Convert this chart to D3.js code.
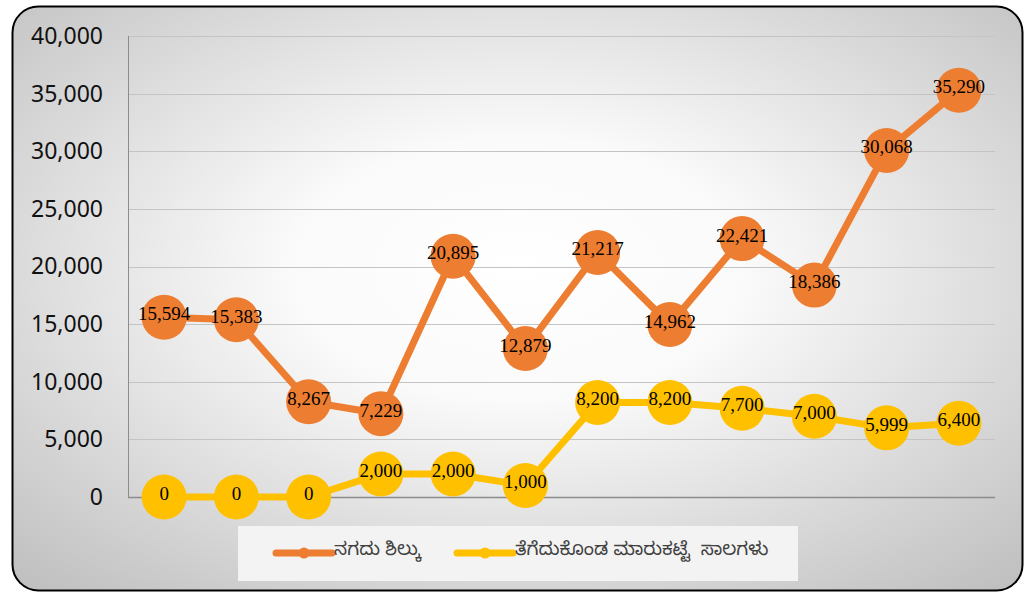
<!DOCTYPE html>
<html>
<head>
<meta charset="utf-8">
<script src="https://cdn.jsdelivr.net/npm/d3@7"></script>
<style>
  body { margin: 0; background: #fff; }
  svg { display: block; }
</style>
</head>
<body>
<svg id="chart"></svg>
<script>
'use strict';
// periods along the x axis (no labels are printed on the chart)
let periods = ["1", "2", "3", "4", "5", "6", "7", "8", "9", "10", "11", "12"];
let cashBalance = [15594, 15383, 8267, 7229, 20895, 12879, 21217, 14962, 22421, 18386, 30068, 35290];
let marketLoans = [0, 0, 0, 2000, 2000, 1000, 8200, 8200, 7700, 7000, 5999, 6400];
let yTicks = [0, 5000, 10000, 15000, 20000, 25000, 30000, 35000, 40000];
let seriesNames = ["ನಗದು ಶಿಲ್ಕು", "ತೆಗೆದುಕೊಂಡ ಮಾರುಕಟ್ಟೆ  ಸಾಲಗಳು"];
let seriesColors = ["#ED7D31", "#FFC000"];

function getChartConfig() {
    let width = 1033, height = 592;
    let plot = { left: 128, right: 995, top: 36, bottom: 497 };
    let svg = d3.select("#chart")
        .attr("width", width)
        .attr("height", height);
    return { width, height, plot, svg };
}

function getScales(config) {
    let { plot } = config;
    let xScale = d3.scalePoint()
        .domain(periods)
        .range([plot.left, plot.right])
        .padding(0.5);
    let yScale = d3.scaleLinear()
        .domain([0, 40000])
        .range([plot.bottom, plot.top]);
    return { xScale, yScale };
}

function drawBackground(config) {
    let { svg } = config;
    let grad = svg.append("defs")
        .append("radialGradient")
        .attr("id", "bg")
        .attr("cx", "50%").attr("cy", "45%").attr("r", "75%");
    grad.append("stop").attr("offset", "0%").attr("stop-color", "#ffffff");
    grad.append("stop").attr("offset", "30%").attr("stop-color", "#fafafa");
    grad.append("stop").attr("offset", "100%").attr("stop-color", "#bdbdbd");

    svg.append("rect")
        .attr("x", 12.5).attr("y", 6.5)
        .attr("width", 1010).attr("height", 584)
        .attr("rx", 26).attr("ry", 26)
        .attr("fill", "url(#bg)")
        .attr("stroke", "#000")
        .attr("stroke-width", 2);
}

function drawAxes(config, scales) {
    let { svg, plot } = config;
    let { yScale } = scales;

    svg.append("g").selectAll("line")
        .data(yTicks.filter(d => d > 0))
        .enter().append("line")
        .attr("x1", plot.left).attr("x2", plot.right)
        .attr("y1", d => Math.round(yScale(d)) + 0.5)
        .attr("y2", d => Math.round(yScale(d)) + 0.5)
        .style("stroke", "#c4c4c4")
        .style("stroke-width", 1);

    let yAxis = d3.axisLeft(yScale)
        .tickValues(yTicks)
        .tickFormat(d3.format(","))
        .tickSize(0)
        .tickPadding(25);
    let g = svg.append("g")
        .attr("transform", "translate(" + plot.left + ",0)")
        .call(yAxis);
    g.select(".domain").remove();
    g.selectAll("text")
        .style("font-family", "'Noto Sans', sans-serif")
        .style("font-size", "23px")
        .style("fill", "#111");

    svg.append("line")
        .attr("x1", plot.left + 0.5).attr("x2", plot.left + 0.5)
        .attr("y1", plot.top).attr("y2", plot.bottom)
        .style("stroke", "#8c8c8c");
    svg.append("line")
        .attr("x1", plot.left).attr("x2", plot.right)
        .attr("y1", plot.bottom + 0.5).attr("y2", plot.bottom + 0.5)
        .style("stroke", "#8c8c8c")
        .style("stroke-width", 1.5);
}

function drawSeries(config, scales, values, color) {
    let { svg } = config;
    let { xScale, yScale } = scales;
    let pts = values.map((v, i) => ({ x: xScale(periods[i]), y: yScale(v), v }));

    svg.append("path")
        .datum(pts)
        .attr("d", d3.line().x(d => d.x).y(d => d.y))
        .attr("fill", "none")
        .attr("stroke", color)
        .attr("stroke-width", 7)
        .attr("stroke-linejoin", "round");

    svg.append("g").selectAll("circle")
        .data(pts)
        .enter().append("circle")
        .attr("cx", d => d.x)
        .attr("cy", d => d.y)
        .attr("r", 22.5)
        .attr("fill", color);

    svg.append("g").selectAll("text")
        .data(pts)
        .enter().append("text")
        .attr("x", d => d.x)
        .attr("y", d => d.y + 3)
        .style("text-anchor", "middle")
        .style("font-family", "'Liberation Serif', 'Times New Roman', serif")
        .style("font-size", "19px")
        .style("fill", "#000")
        .text(d => d3.format(",")(d.v));
}

function drawLegend(config) {
    let { svg } = config;
    svg.append("rect")
        .attr("x", 238).attr("y", 526)
        .attr("width", 560).attr("height", 55)
        .attr("fill", "#f3f3f3");

    let items = [{ x: 276 }, { x: 457 }];
    items.forEach((item, i) => {
        let g = svg.append("g").attr("transform", "translate(" + item.x + ",553)");
        g.append("line")
            .attr("x1", 0).attr("x2", 56)
            .attr("stroke", seriesColors[i])
            .attr("stroke-width", 7)
            .attr("stroke-linecap", "round");
        g.append("circle")
            .attr("cx", 28).attr("r", 5.5)
            .attr("fill", seriesColors[i]);
        g.append("text")
            .attr("x", 58).attr("y", 0)
            .attr("dy", "0.1em")
            .style("white-space", "pre")
            .style("font-family", "'Noto Sans Kannada', 'Noto Sans', sans-serif")
            .style("font-size", "18.5px")
            .style("fill", "#404040")
            .text(seriesNames[i]);
    });
}

function drawChart() {
    let config = getChartConfig();
    let scales = getScales(config);
    drawBackground(config);
    drawAxes(config, scales);
    drawSeries(config, scales, cashBalance, seriesColors[0]);
    drawSeries(config, scales, marketLoans, seriesColors[1]);
    drawLegend(config);
}

drawChart();
</script>
</body>
</html>
